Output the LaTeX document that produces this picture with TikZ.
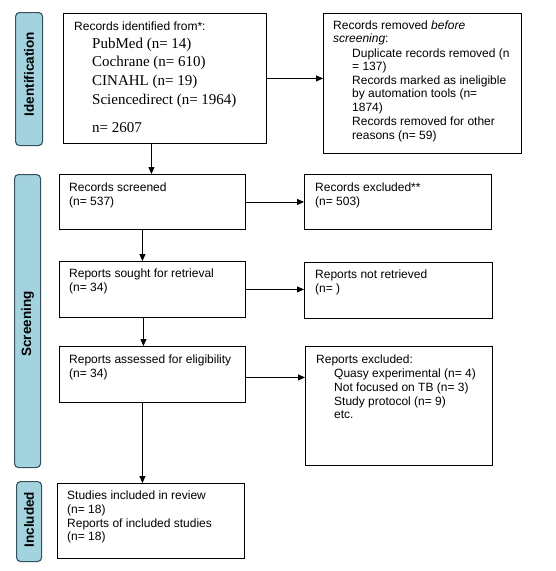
\documentclass[tikz,border=0pt]{standalone}
\usepackage{fontspec}
\setmainfont{Liberation Serif}
\setsansfont{Liberation Sans}
\usetikzlibrary{arrows.meta,calc}
\definecolor{tabfill}{HTML}{A3D3DF}
\definecolor{tabline}{HTML}{34525C}
\tikzset{
  box/.style={draw=black,line width=0.9pt,rectangle,anchor=north west,inner sep=0pt,fill=white},
  tab/.style={draw=tabline,line width=1.1pt,fill=tabfill,rounded corners=4pt,rectangle,anchor=north west,inner sep=0pt},
  tabtxt/.style={rotate=90,font=\sffamily\bfseries\fontsize{13.5}{15}\selectfont,inner sep=0pt},
  st/.style={anchor=base west,inner sep=0pt,font=\sffamily\fontsize{12}{14}\selectfont},
  rt/.style={anchor=base west,inner sep=0pt,font=\rmfamily\fontsize{15}{18}\selectfont},
  arr/.style={line width=0.9pt,-{Triangle[length=7pt,width=6pt]}}
}
\begin{document}
\begin{tikzpicture}[x=1pt,y=-1pt]
\useasboundingbox[fill=white] (0,0) rectangle (555,571);
% tabs
\node[tab,minimum width=27pt,minimum height=133pt] (tabI) at (15,12) {};
\node[tabtxt] (tabIt) at ($(tabI.center)+(0,-5)$) {Identification};
\node[tab,minimum width=26pt,minimum height=293pt] (tabS) at (14,174) {};
\node[tabtxt] (tabSt) at ($(tabS.center)+(0,3)$) {Screening};
\node[tab,minimum width=25pt,minimum height=80pt] (tabC) at (16,481) {};
\node[tabtxt] (tabCt) at ($(tabC.center)+(0,-2)$) {Included};
% boxes
\node[box,minimum width=203pt,minimum height=130pt] (ident) at (63,13) {};
\node[box,minimum width=198pt,minimum height=140pt] (removed) at (323,13) {};
\node[box,minimum width=186pt,minimum height=55pt] (screened) at (59,174) {};
\node[box,minimum width=187pt,minimum height=55pt] (excluded) at (304,174) {};
\node[box,minimum width=186pt,minimum height=56pt] (sought) at (59,261) {};
\node[box,minimum width=188pt,minimum height=56pt] (notret) at (304,262) {};
\node[box,minimum width=186pt,minimum height=56pt] (assessed) at (59,346) {};
\node[box,minimum width=187pt,minimum height=119pt] (repexcl) at (305,346) {};
\node[box,minimum width=187pt,minimum height=75pt] (included) at (57,483) {};
% texts: identification
\node[st] (i0) at (74,30) {Records identified from*:};
\node[rt] (i1) at (92,48) {PubMed (n= 14)};
\node[rt] (i2) at (92,66.5) {Cochrane (n= 610)};
\node[rt] (i3) at (92,85) {CINAHL (n= 19)};
\node[rt] (i4) at (92,104) {Sciencedirect (n= 1964)};
\node[rt] (i5) at (92,132) {n= 2607};
% removed
\node[st] (r0) at (333,29) {Records removed \textit{before}};
\node[st] (r1) at (333,42) {\textit{screening}:};
\node[st] (r2) at (352,57) {Duplicate records removed (n};
\node[st] (r3) at (352,70) {= 137)};
\node[st] (r4) at (352,84) {Records marked as ineligible};
\node[st] (r5) at (352,97.5) {by automation tools (n=};
\node[st] (r6) at (352,111) {1874)};
\node[st] (r7) at (352,125.5) {Records removed for other};
\node[st] (r8) at (352,139) {reasons (n= 59)};
% screened
\node[st] (s0) at (69,191) {Records screened};
\node[st] (s1) at (69,205) {(n= 537)};
\node[st] (e0) at (315,191) {Records excluded**};
\node[st] (e1) at (315,205) {(n= 503)};
% sought
\node[st] (g0) at (69,277) {Reports sought for retrieval};
\node[st] (g1) at (69,291) {(n= 34)};
\node[st] (n0) at (315,278) {Reports not retrieved};
\node[st] (n1) at (315,292) {(n= )};
% assessed
\node[st] (a0) at (69,363) {Reports assessed for eligibility};
\node[st] (a1) at (69,377) {(n= 34)};
\node[st] (x0) at (316,363) {Reports excluded:};
\node[st] (x1) at (334,377) {Quasy experimental (n= 4)};
\node[st] (x2) at (334,391) {Not focused on TB (n= 3)};
\node[st] (x3) at (334,405) {Study protocol (n= 9)};
\node[st] (x4) at (334,418) {etc.};
% included
\node[st] (c0) at (67,499) {Studies included in review};
\node[st] (c1) at (67,513) {(n= 18)};
\node[st] (c2) at (67,527) {Reports of included studies};
\node[st] (c3) at (67,540) {(n= 18)};
% arrows
\draw[arr] (ident.east) -- (ident.east -| removed.west);
\draw[arr] (screened.east) -- (screened.east -| excluded.west);
\draw[arr] (sought.east) -- (sought.east -| notret.west);
\draw[arr] ($(assessed.east)+(0,3)$) -- ($(assessed.east -| repexcl.west)+(0,3)$);
\draw[arr] ($(ident.south -| screened.north)+(-1,0)$) -- ($(screened.north)+(-1,0)$);
\draw[arr] ($(screened.south)+(-10,0)$) -- ($(sought.north)+(-10,0)$);
\draw[arr] ($(sought.south)+(-9,0)$) -- ($(assessed.north)+(-9,0)$);
\draw[arr] ($(assessed.south)+(-10,0)$) -- ($(assessed.south |- included.north)+(-10,0)$);
\end{tikzpicture}
\end{document}
